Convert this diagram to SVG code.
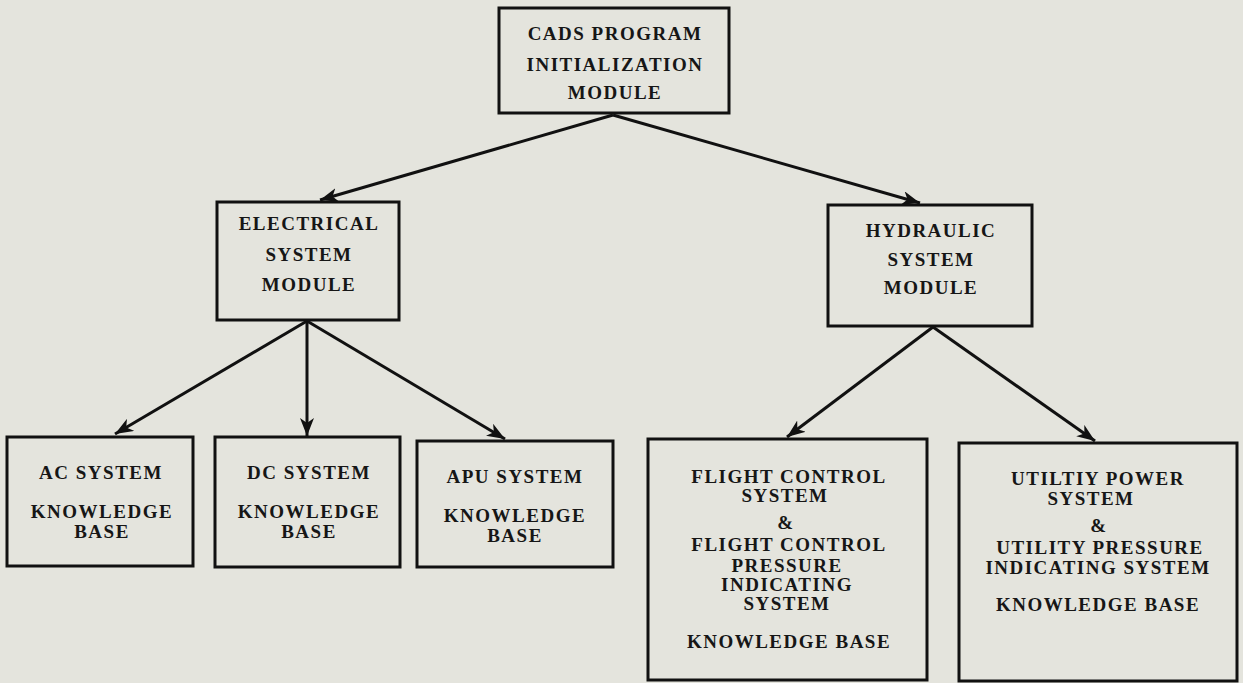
<svg xmlns="http://www.w3.org/2000/svg" width="1243" height="683" viewBox="0 0 1243 683">
<style>
.bg{fill:#e4e4dd}
.box{fill:#e4e4dd;stroke:#111;stroke-width:3}
.t{font-family:"Liberation Serif","Times New Roman",serif;font-weight:bold;font-size:19px;fill:#161616;text-anchor:middle;letter-spacing:1.5px}
.c{stroke:#111;stroke-width:3;fill:none;marker-end:url(#ah)}
</style>
<defs>
<marker id="ah" markerUnits="userSpaceOnUse" markerWidth="20" markerHeight="14" refX="18" refY="7" orient="auto">
<path d="M0,0 L18,7 L0,14 L5,7 Z" fill="#111"/>
</marker>
</defs>
<rect class="bg" x="0" y="0" width="1243" height="683"/>
<g id="connectors">
<line class="c" x1="613" y1="115" x2="320" y2="200"/>
<line class="c" x1="613" y1="115" x2="920" y2="203"/>
<line class="c" x1="307" y1="321" x2="115" y2="434"/>
<line class="c" x1="307" y1="321" x2="307" y2="436"/>
<line class="c" x1="307" y1="321" x2="505" y2="439"/>
<line class="c" x1="933" y1="327" x2="787" y2="437"/>
<line class="c" x1="933" y1="327" x2="1095" y2="441"/>
</g>
<g id="cads">
<rect class="box" x="499" y="8" width="230" height="105"/>
<text class="t" x="615" y="40">CADS PROGRAM</text>
<text class="t" x="615" y="71">INITIALIZATION</text>
<text class="t" x="615" y="99">MODULE</text>
</g>
<g id="electrical">
<rect class="box" x="217" y="202" width="182" height="118"/>
<text class="t" x="309" y="230">ELECTRICAL</text>
<text class="t" x="309" y="261">SYSTEM</text>
<text class="t" x="309" y="291">MODULE</text>
</g>
<g id="hydraulic">
<rect class="box" x="828" y="205" width="204" height="121"/>
<text class="t" x="931" y="237">HYDRAULIC</text>
<text class="t" x="931" y="266">SYSTEM</text>
<text class="t" x="931" y="294">MODULE</text>
</g>
<g id="ac">
<rect class="box" x="7" y="437" width="186" height="129"/>
<text class="t" x="101" y="479">AC SYSTEM</text>
<text class="t" x="102" y="518">KNOWLEDGE</text>
<text class="t" x="102" y="538">BASE</text>
</g>
<g id="dc">
<rect class="box" x="215" y="437" width="185" height="130"/>
<text class="t" x="309" y="479">DC SYSTEM</text>
<text class="t" x="309" y="518">KNOWLEDGE</text>
<text class="t" x="309" y="538">BASE</text>
</g>
<g id="apu">
<rect class="box" x="417" y="441" width="196" height="126"/>
<text class="t" x="515" y="483">APU SYSTEM</text>
<text class="t" x="515" y="522">KNOWLEDGE</text>
<text class="t" x="515" y="542">BASE</text>
</g>
<g id="flightcontrol">
<rect class="box" x="648" y="439" width="279" height="241"/>
<text class="t" x="789" y="483">FLIGHT CONTROL</text>
<text class="t" x="785" y="502">SYSTEM</text>
<text class="t" x="786" y="529">&amp;</text>
<text class="t" x="789" y="551">FLIGHT CONTROL</text>
<text class="t" x="787" y="572">PRESSURE</text>
<text class="t" x="787" y="591">INDICATING</text>
<text class="t" x="787" y="610">SYSTEM</text>
<text class="t" x="789" y="648">KNOWLEDGE BASE</text>
</g>
<g id="utility">
<rect class="box" x="959" y="443" width="278" height="238"/>
<text class="t" x="1098" y="485">UTILTIY POWER</text>
<text class="t" x="1091" y="505">SYSTEM</text>
<text class="t" x="1099" y="532">&amp;</text>
<text class="t" x="1100" y="554">UTILITY PRESSURE</text>
<text class="t" x="1098" y="574">INDICATING SYSTEM</text>
<text class="t" x="1098" y="611">KNOWLEDGE BASE</text>
</g>
</svg>
